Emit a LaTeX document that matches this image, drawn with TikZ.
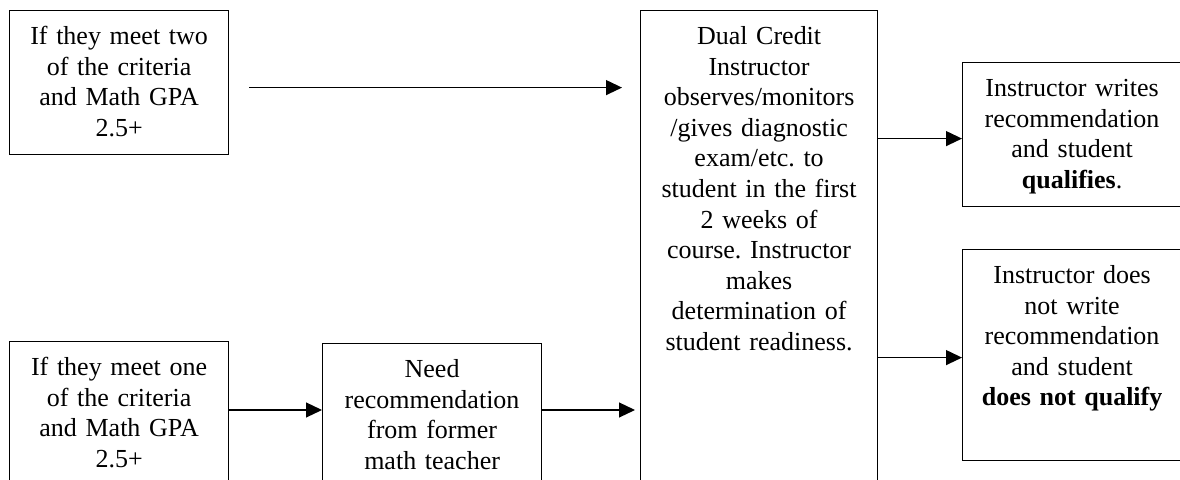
\documentclass[tikz,border=0pt]{standalone}
\usepackage{fontspec}
\setmainfont{Liberation Serif}
\usepackage{tikz}
\usetikzlibrary{arrows.meta}
\frenchspacing

\begin{document}
\begin{tikzpicture}[x=0.5pt, y=-0.5pt,
    box/.style={draw, line width=0.6pt, inner sep=0pt, align=center, anchor=north west,
        text height=17pt, font=\fontsize{13pt}{15.3pt}\selectfont},
    arr/.style={-{Triangle[length=8pt,width=7.5pt]}, line width=0.6pt}]
    \useasboundingbox (0,0) rectangle (1180,480);

    % Cột trái
    \node[box, text width=109.5pt, text depth=55pt] (two) at (9,10) {If they meet two\\ of the criteria\\ and Math GPA\\ 2.5+};
    \node[box, text width=109.5pt, text depth=62.5pt] (one) at (9,341) {If they meet one\\ of the criteria\\ and Math GPA\\ 2.5+};
    \node[box, text width=109.5pt, text depth=61.5pt] (need) at (322,343) {Need\\ recommendation\\ from former\\ math teacher};

    % Cột giữa
    \node[box, text width=118.5pt, text depth=228pt] (dual) at (640,10) {Dual Credit\\ Instructor\\ observes/monitors\\ /gives diagnostic\\ exam/etc. to\\ student in the first\\ 2 weeks of\\ course. Instructor\\ makes\\ determination of\\ student readiness.};

    % Cột phải
    \node[box, text width=109.5pt, text depth=55pt] (qual) at (962,62) {Instructor writes\\ recommendation\\ and student\\ \textbf{qualifies}.};
    \node[box, text width=109.5pt, text depth=88.5pt] (notq) at (962,249) {Instructor does\\ not write\\ recommendation\\ and student\\ \textbf{does not qualify}};

    % Các mũi tên
    \coordinate (a1) at ([yshift=-2.5pt]two.east);
    \coordinate (b1) at ([yshift=-34.5pt]one.north east);
    \coordinate (b2) at ([yshift=-33.5pt]need.north east);
    \coordinate (c1) at ([yshift=-2pt]qual.west);
    \coordinate (c2) at ([yshift=-1.25pt]notq.west);

    \draw[arr, shorten <=10pt, shorten >=9pt] (a1) -- (a1 -| dual.west);
    \draw[arr] (b1) -- (b1 -| need.west);
    \draw[arr, shorten >=2.5pt] (b2) -- (b2 -| dual.west);
    \draw[arr] (c1 -| dual.east) -- (c1);
    \draw[arr] (c2 -| dual.east) -- (c2);

\end{tikzpicture}
\end{document}
